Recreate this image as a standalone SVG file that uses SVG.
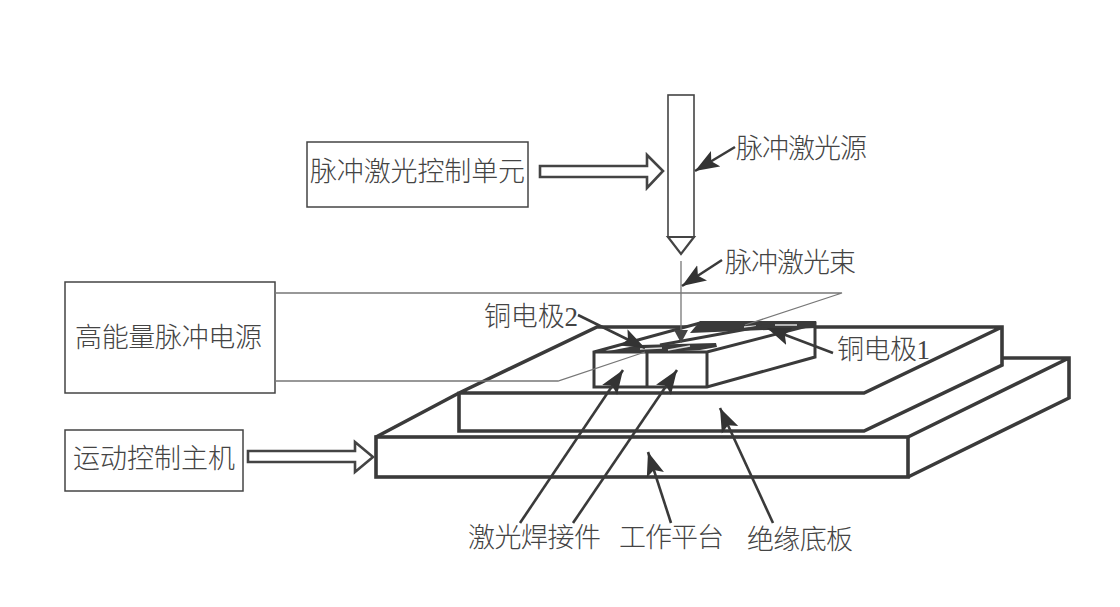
<svg xmlns="http://www.w3.org/2000/svg" width="1120" height="607" viewBox="0 0 1120 607">
<style>
text{font-family:"Liberation Serif","Noto Sans CJK SC",serif;font-size:27px;fill:#444;font-weight:300}
.box{fill:#fff;stroke:#444;stroke-width:1.5}
.thick{fill:none;stroke:#3a3a3a;stroke-width:3.6;stroke-linejoin:miter}
.mid{fill:none;stroke:#3a3a3a;stroke-width:3}
.hollow{fill:#fff;stroke:#444;stroke-width:2.6}
.thin{fill:none;stroke:#777;stroke-width:1.3}
.lead{fill:none;stroke:#3a3a3a;stroke-width:2.6}
.band{fill:#3a3a3a;stroke:none}
</style>
<defs>
<marker id="ah" markerUnits="userSpaceOnUse" markerWidth="26" markerHeight="20" refX="24" refY="10" orient="auto">
<path d="M0,1 L24,10 L0,19 L5,10 Z" fill="#333"/>
</marker>
<marker id="ahs" markerUnits="userSpaceOnUse" markerWidth="14" markerHeight="14" refX="13" refY="7" orient="auto">
<path d="M0,0 L13,7 L0,14 Z" fill="#444"/>
</marker>
</defs>
<rect width="1120" height="607" fill="#fff"/>
<g id="platform">
<path class="thick" d="M376,437 L459,393 M1002,358 H1069 V398 L908,477 M908,437 L1069,358"/>
<rect class="thick" x="376" y="437" width="532" height="40"/>
</g>
<g id="baseplate">
<path d="M459,393 L597,327 H1002 V365 L864,431 H459 Z" fill="#fff"/>
<path class="thick" d="M459,393 L597,327 H1002 V365 L864,431 H459 Z M459,393 H864 L1002,327"/>
</g>
<g id="workpiece">
<path d="M594,352 L700,323 H815 V357 L707,387 H594 Z" fill="#fff"/>
<path class="mid" d="M594,352 L700,323 H815 V357 L707,387 H594 Z M594,352 H707 L815,324 M647,352 V387 M707,352 V387"/>
<path class="band" d="M700,321 H816 V328 L690,333 Z"/>
<path class="band" d="M640,345 L716,343 L717,347 L700,350 L650,353 L598,353 Z"/>
<path d="M640,349 L662,348 M668,350 L690,346 M744,327 L756,326 M775,325 L797,325" stroke="#ddd" stroke-width="1.6" fill="none"/>
<path class="mid" d="M660,345 L770,325"/>
</g>
<g id="ctrl-unit">
<rect class="box" x="307" y="142" width="221" height="65"/>
<text x="310" y="181" textLength="215">脉冲激光控制单元</text>
</g>
<g id="power">
<rect class="box" x="65" y="282" width="210" height="111"/>
<text x="75" y="347" textLength="187">高能量脉冲电源</text>
</g>
<g id="motion-host">
<rect class="box" x="65" y="430" width="178" height="61"/>
<text x="73" y="468" textLength="162">运动控制主机</text>
</g>
<g id="laser-source">
<rect x="668" y="95" width="26" height="142" fill="#fff" stroke="#444" stroke-width="1.6"/>
<path d="M668,237 H694 L681,254 Z" fill="#fff" stroke="#444" stroke-width="2.2"/>
</g>
<g id="connectors">
<path class="hollow" d="M540,166 H647 V155 L663,171 L647,188 V177 H540 Z"/>
<path class="hollow" d="M248,451 H355 V442 L373,457 L355,472 V462 H248 Z"/>
<path class="thin" d="M275,293 H842 L745,325 M645,352 L558,381 H275"/>
<path class="thin" d="M681,261 V343" marker-end="url(#ahs)"/>
<path class="lead" d="M735,147 L695,171" marker-end="url(#ah)"/>
<path class="lead" d="M722,260 L682,286" marker-end="url(#ah)"/>
<path class="lead" d="M578,315 L645,348" marker-end="url(#ah)"/>
<path class="lead" d="M833,353 L767,328" marker-end="url(#ah)"/>
<path class="lead" d="M520,523 L623,370" marker-end="url(#ah)"/>
<path class="lead" d="M573,523 L677,370" marker-end="url(#ah)"/>
<path class="lead" d="M671,523 L648,452" marker-end="url(#ah)"/>
<path class="lead" d="M773,523 L720,408" marker-end="url(#ah)"/>
</g>
<g id="labels">
<text x="736" y="158" textLength="131">脉冲激光源</text>
<text x="725" y="272" textLength="131">脉冲激光束</text>
<text x="484" y="326" textLength="94">铜电极2</text>
<text x="837" y="359" textLength="93">铜电极1</text>
<text x="468" y="547" textLength="133">激光焊接件</text>
<text x="619" y="547" textLength="105">工作平台</text>
<text x="747" y="549" textLength="106">绝缘底板</text>
</g>
</svg>
